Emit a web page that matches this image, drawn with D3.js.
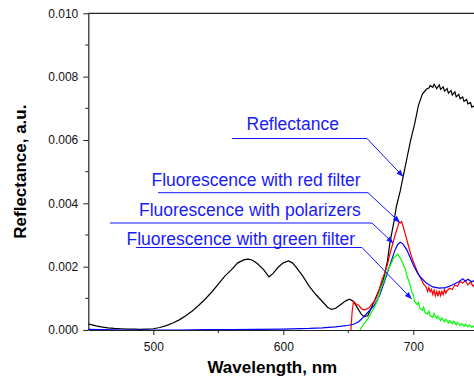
<!DOCTYPE html>
<html><head><meta charset="utf-8">
<script src="https://cdn.jsdelivr.net/npm/d3@7"></script>
<style>body{margin:0;background:#fff}svg{display:block}</style>
</head><body>
<script>
// ---- data ----
const reflNm  = [450,453,456,460,465,470,475,480,485,490,495,500,505,510,515,520,525,530,535,540,545,550,555,560,565,570,573,576,580,585,589,592,596,600,604,607,610,615,620,625,630,634,637,640,644,648,651,654,657,660,662,665,669,673,677,680,682,685,687,690,692,695,698,701,704,707,710,712,713,715,716,718,720,721,723,724,726,727,729,730,732,733,735,736,738,739,741,742,744,745,747,748,750];
const reflVal = [0.00019,0.00016,0.00013,0.0001,0.00007,0.00005,0.00004,0.00003,0.00003,0.00002,0.00003,0.00004,0.00008,0.00014,0.00022,0.00032,0.00045,0.0006,0.00078,0.00098,0.0012,0.00145,0.0017,0.0019,0.00212,0.00222,0.00224,0.00221,0.0021,0.0019,0.00168,0.00178,0.00198,0.00212,0.00218,0.00212,0.00198,0.0017,0.00138,0.00112,0.0009,0.00072,0.00065,0.00068,0.0008,0.00092,0.00097,0.0009,0.0007,0.0005,0.00042,0.00045,0.00082,0.0012,0.00158,0.00215,0.00275,0.0034,0.0039,0.0044,0.0048,0.0054,0.006,0.0065,0.0071,0.00745,0.0076,0.00764,0.00772,0.00766,0.00776,0.00762,0.00774,0.0076,0.00768,0.00754,0.00762,0.00748,0.00756,0.00742,0.00752,0.00736,0.00744,0.0073,0.00736,0.00722,0.00728,0.00714,0.00718,0.00704,0.00708,0.00696,0.0069];

const redNm  = [652,653,654,656,658,660,662,664,666,668,670,672,674,676,678,680,682,684,686,688,689,690,691,692,694,696,698,700,702,704,706,708,710,711,712,713,714,715,716,717,718,719,720,721,722,723,724,725,726,728,730,732,734,736,738,740,742,744,746,748,750];
const redVal = [0,0.0006,0.0009,0.00082,0.00078,0.00068,0.00063,0.00066,0.0007,0.00082,0.0009,0.00105,0.0013,0.0016,0.0018,0.00205,0.0024,0.0027,0.003,0.00325,0.0034,0.00338,0.00342,0.0033,0.003,0.0027,0.0024,0.00216,0.00195,0.00175,0.0016,0.00145,0.00135,0.00122,0.00134,0.0012,0.00128,0.00112,0.00126,0.00108,0.00122,0.00106,0.00124,0.00108,0.00122,0.00112,0.00128,0.00116,0.00124,0.00132,0.00128,0.00142,0.00138,0.00154,0.00148,0.00156,0.00142,0.00152,0.00138,0.0015,0.0014];

const polNm  = [450,460,480,500,520,540,560,580,600,620,630,640,645,650,654,658,662,666,670,674,678,682,686,688,690,692,695,698,700,703,706,710,715,720,725,730,735,738,740,742,745,748,750];
const polVal = [0.00002,0.00001,0,0,0,0.00001,0.00001,0.00002,0.00003,0.00005,0.00007,0.0001,0.00012,0.00015,0.00018,0.00026,0.00042,0.0006,0.00078,0.00108,0.00155,0.00205,0.00253,0.0027,0.00277,0.00272,0.00253,0.00225,0.00205,0.00182,0.00165,0.00148,0.00136,0.00132,0.00134,0.00142,0.00152,0.00162,0.00154,0.0016,0.00152,0.00158,0.00156];

const grnNm  = [659,662,665,667,669,671,673,675,677,679,681,683,685,687,688,689,690,692,694,695,697,699,700,701,703,704,705,707,708,709,711,712,713,715,716,718,719,721,722,724,725,727,728,730,731,733,734,736,737,739,740,742,743,745,746,748,750];
const grnVal = [0,0.0002,0.00035,0.0005,0.00063,0.0008,0.001,0.0013,0.0015,0.00175,0.00195,0.0021,0.00228,0.00235,0.0024,0.00232,0.00228,0.0021,0.0019,0.00172,0.0015,0.00118,0.0011,0.0009,0.0008,0.00088,0.0007,0.00062,0.00072,0.00055,0.0005,0.0006,0.00045,0.0004,0.00052,0.00036,0.00044,0.0003,0.00038,0.00026,0.00034,0.00022,0.0003,0.0002,0.00028,0.00016,0.00024,0.00014,0.0002,0.00012,0.00018,0.0001,0.00016,0.00008,0.00012,0.00006,0.00005];

const xTicks = [500,600,700];
const yTicks = [0.000,0.002,0.004,0.006,0.008,0.010];
const annoText = ["Reflectance","Fluorescence with red filter","Fluorescence with polarizers","Fluorescence with green filter"];
const annoTipNm  = [692.3,689.8,684.6,698.8];
const annoTipVal = [0.00484,0.00339,0.00274,0.00098];

// ---- layout ----
const W=474,H=382;
const L=88.3, R=478.3, T=13.3, B=330;
const svg=d3.select("body").append("svg").attr("width",W).attr("height",H);
const x=d3.scaleLinear().domain([450,750]).range([L,R]);
const y=d3.scaleLinear().domain([0,0.010]).range([B,T]);

svg.append("defs").append("clipPath").attr("id","clip")
  .append("rect").attr("x",L).attr("y",T).attr("width",R-L).attr("height",B-T);
const mk=svg.select("defs").append("marker").attr("id","arr")
  .attr("viewBox","0 0 10 10").attr("refX",10).attr("refY",5)
  .attr("markerWidth",9).attr("markerHeight",7).attr("orient","auto").attr("markerUnits","userSpaceOnUse");
mk.append("path").attr("d","M0,1 L10,5 L0,9 Z").attr("fill","#1515ff");

const font="'Liberation Sans', Arial, sans-serif";

// axes
const xAxis=d3.axisBottom(x).tickValues(xTicks).tickSize(5).tickSizeOuter(0).tickFormat(d3.format("d"));
const gx=svg.append("g").attr("transform",`translate(0,${B})`).call(xAxis);
const yAxis=d3.axisLeft(y).tickValues(yTicks).tickSize(5).tickSizeOuter(0).tickFormat(d3.format(".3f"));
const gy=svg.append("g").attr("transform",`translate(${L},0)`).call(yAxis);
[gx,gy].forEach(g=>{
  g.select(".domain").attr("stroke","#222").attr("stroke-width",1.2);
  g.selectAll(".tick line").attr("stroke","#222");
  g.selectAll("text").attr("font-family",font).attr("font-size",12).attr("fill","#111");
});
gx.selectAll("text").attr("dy","1.05em");
gy.selectAll("text").attr("dx","-2px");
// minor ticks
svg.append("g").selectAll("line").data([550,650]).join("line")
  .attr("x1",d=>x(d)).attr("x2",d=>x(d)).attr("y1",B).attr("y2",B+3).attr("stroke","#222");
svg.append("g").selectAll("line").data([0.001,0.003,0.005,0.007,0.009]).join("line")
  .attr("x1",L-3).attr("x2",L).attr("y1",d=>y(d)).attr("y2",d=>y(d)).attr("stroke","#222");
// top frame
svg.append("line").attr("x1",L).attr("x2",R).attr("y1",T).attr("y2",T).attr("stroke","#222").attr("stroke-width",1.2);

// curves
const line=d3.line().x(d=>x(d[0])).y(d=>y(d[1]));
const plot=svg.append("g").attr("clip-path","url(#clip)");
const series=[
  {nm:reflNm,v:reflVal,c:"#000000"},
  {nm:redNm,v:redVal,c:"#ff0000"},
  {nm:polNm,v:polVal,c:"#0000ff"},
  {nm:grnNm,v:grnVal,c:"#00ff00"},
];
series.forEach(s=>{
  plot.append("path").datum(d3.zip(s.nm,s.v)).attr("d",line)
    .attr("fill","none").attr("stroke",s.c).attr("stroke-width",1.2);
});

// annotations (label positions)
const annoLayout=[
  {tx:246.5,ty:130,u1:232,u2:367,uy:138.5},
  {tx:151.5,ty:186,u1:158,u2:368,uy:192.7},
  {tx:139,ty:216,u1:110,u2:372,uy:223},
  {tx:126.5,ty:244.5,u1:136,u2:362,uy:247.5},
];
annoText.forEach((t,i)=>{
  const a=annoLayout[i];
  svg.append("text").attr("x",a.tx).attr("y",a.ty).text(t)
    .attr("font-family",font).attr("font-size",17.5).attr("fill","#1a1aff");
  svg.append("path").attr("d",`M${a.u1},${a.uy}L${a.u2},${a.uy}L${x(annoTipNm[i])},${y(annoTipVal[i])}`)
    .attr("fill","none").attr("stroke","#1515ff").attr("stroke-width",1).attr("marker-end","url(#arr)");
});

// axis titles
svg.append("text").attr("x",(L+R)/2-11).attr("y",373).attr("text-anchor","middle")
  .attr("font-family",font).attr("font-weight","bold").attr("font-size",17).text("Wavelength, nm");
svg.append("text").attr("transform",`translate(26,${(T+B)/2}) rotate(-90)`).attr("text-anchor","middle")
  .attr("font-family",font).attr("font-weight","bold").attr("font-size",17).text("Reflectance, a.u.");
</script>
</body></html>
